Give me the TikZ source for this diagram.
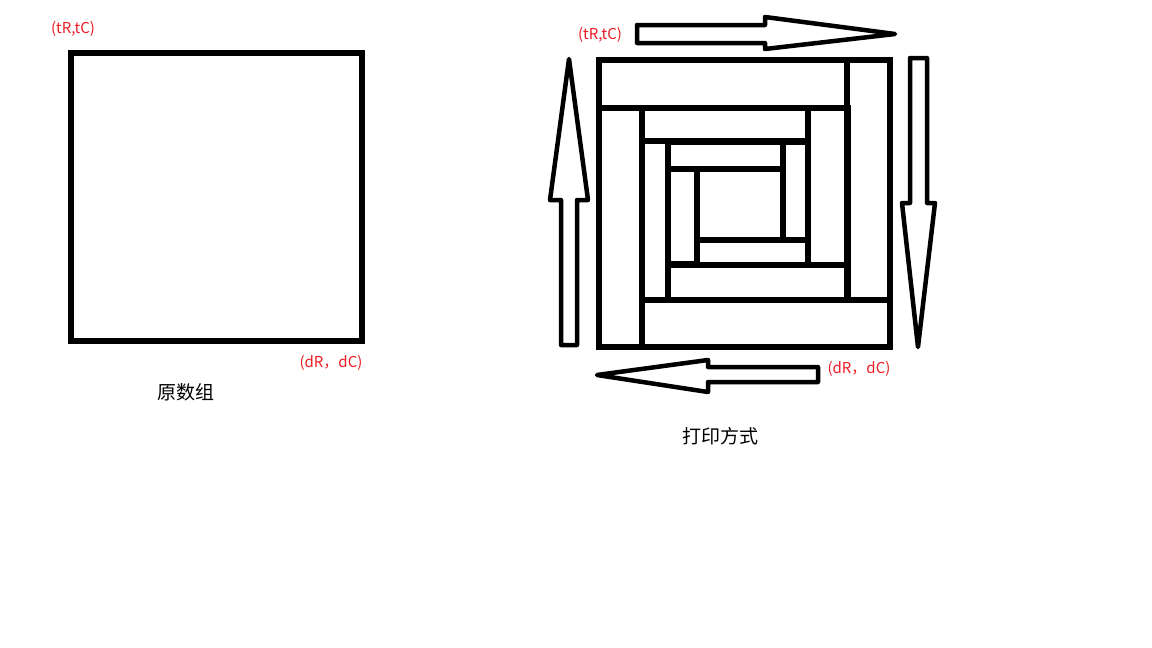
\documentclass[tikz,border=0pt]{standalone}
\usepackage{fontspec}
\setmainfont{Noto Sans CJK SC}
\definecolor{labelred}{RGB}{237,28,36}
\tikzset{
  outline/.style={draw=black, line width=5.5pt},
  bar/.style={draw=black, line width=5.5pt},
  blockarrow/.style={draw=black, line width=4.5pt, line join=round},
  corner/.style={text=labelred, inner sep=0pt, font=\fontsize{15}{18}\selectfont},
  caption/.style={inner sep=0pt, font=\fontsize{19}{23}\selectfont}
}

\begin{document}
\begin{tikzpicture}[x=1pt,y=-1pt]
\useasboundingbox (0,0) rectangle (1152,648);

% original array
\coordinate (sqTL) at (71,53);
\coordinate (sqBR) at (362,341);
\draw[outline] (sqTL) rectangle (sqBR);
\node[corner] (topleft) at (73,29) {(tR,tC)};
\node[corner] (downright) at (331,363) {(dR，dC)};
\node[caption] (orig) at (186,392) {原数组};

% print order, outer ring
\draw[bar] (599,60) rectangle (847,108);
\draw[bar] (847,60) rectangle (890,300);
\draw[bar] (642,300) rectangle (890,347);
\draw[bar] (599,108) rectangle (642,347);
% second ring
\draw[bar] (642,108) rectangle (808,141);
\draw[bar] (808,108) rectangle (848,265);
\draw[bar] (668,265) rectangle (848,300);
\draw[bar] (642,141) rectangle (668,300);
% third ring
\draw[bar] (668,142) rectangle (783,169);
\draw[bar] (783,142) rectangle (808,240);
\draw[bar] (697,240) rectangle (808,265);
\draw[bar] (668,169) rectangle (697,264);

% arrows round the rings
\draw[blockarrow] (637,25) -- (765,25) -- (765,17) -- (895,34)
  -- (765,49) -- (765,43) -- (637,43) -- cycle;
\draw[blockarrow] (910,58) -- (927,58) -- (927,203) -- (935,203)
  -- (918,347) -- (902,203) -- (910,203) -- cycle;
\draw[blockarrow] (818,367) -- (708,367) -- (708,360) -- (597,375)
  -- (708,392) -- (708,382) -- (818,382) -- cycle;
\draw[blockarrow] (561,345) -- (561,200) -- (550,200) -- (569,59)
  -- (588,200) -- (577,200) -- (577,345) -- cycle;

\node[corner] (topleft2) at (600,35) {(tR,tC)};
\node[corner] (downright2) at (859,369) {(dR，dC)};
\node[caption] (printorder) at (720,436) {打印方式};
\end{tikzpicture}
\end{document}
